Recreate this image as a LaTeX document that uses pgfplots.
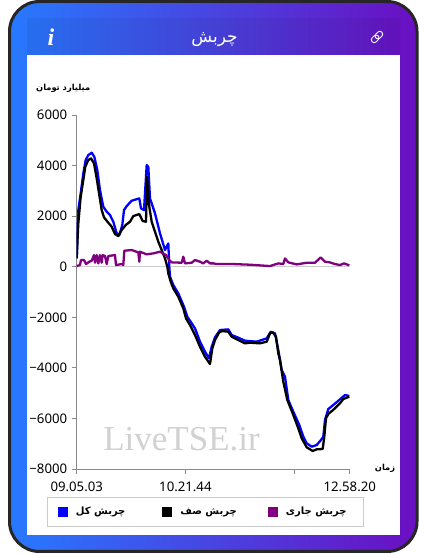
\documentclass[border=0pt]{standalone}
\usepackage{pgfplots}
\pgfplotsset{compat=1.18}
\usepackage{fontspec}
\setmainfont{Noto Sans}
\newfontfamily\arabicfont[Script=Arabic]{DejaVu Sans}
\newfontfamily\wmfont{Liberation Serif}
\TeXXeTstate=1
\definecolor{gradL}{HTML}{2779FF}
\definecolor{gradR}{HTML}{6A0FC2}
\definecolor{axgray}{HTML}{8A8A8A}
\definecolor{pur}{HTML}{800080}
\pgfplotstableread{
x y
0 330
1.6 2241
4 2900
6.6 3690
9 4218
11.6 4415
15 4508
17.6 4350
20.6 3822
23.3 3031
26.6 2372
30 2175
33.3 2043
36.6 1779
40 1318
42.6 1252
45.6 1648
47.3 2241
50 2399
55 2610
62.6 2702
64.3 2306
67.3 2241
70 4020
71.6 3954
73.3 2702
78.3 2109
83.3 1318
88.3 659
91.6 922
92.6 0
93.3 -395
96.6 -725
101.6 -1054
107.3 -1582
110.6 -1977
118.3 -2438
123.3 -2965
128.3 -3361
132.3 -3625
135 -3163
138.3 -2794
143.3 -2504
151.6 -2478
155 -2702
161.6 -2807
168.3 -2926
180 -2965
190 -2834
194 -2570
198.3 -2636
201.6 -3295
205 -4086
208.3 -4349
211.6 -5271
216.6 -5733
222.6 -6260
226.6 -6721
230 -6985
235 -7117
240 -7050
244.3 -6853
246.6 -6721
248.3 -6062
251.6 -5627
256.6 -5469
263.3 -5245
268.3 -5074
272.6 -5113
}\blue
\pgfplotstableread{
x y
0 330
1.6 1713
4 2768
6.6 3427
8.6 3954
11.6 4218
14.3 4284
17.3 4086
20 3493
22.6 2834
25 2241
27.3 1951
31.6 1740
35 1582
38.3 1292
41.6 1213
45 1450
49 1648
53.3 1779
56.6 2003
62.6 2082
66 1806
69.3 1779
70.3 3559
72.6 2372
75 1779
78.3 1384
81.6 988
85 659
88.3 330
90.6 0
91.6 -264
94 -593
96.6 -857
101.6 -1186
106.6 -1648
109.3 -2043
113.3 -2306
118.3 -2702
123.3 -3163
128.3 -3559
133.3 -3849
135.6 -3229
138.3 -2900
142.3 -2610
145 -2544
151.6 -2570
155 -2768
161.6 -2900
168.3 -3031
173.3 -3005
183.3 -3031
190 -2965
193.3 -2636
196 -2596
199.3 -2768
201.6 -3427
203.3 -3690
206.6 -4547
210.6 -5271
216.6 -5865
221.6 -6392
225 -6787
230 -7143
236 -7288
240 -7222
246 -7209
247.6 -6721
249.3 -5996
251.6 -5825
258.3 -5601
263.3 -5403
266.6 -5232
272.6 -5140
}\black
\pgfplotstableread{
x y
0 26
3.3 66
4.3 264
7.3 264
9.3 105
12.6 198
15 237
17.3 461
18.3 158
20 461
21.6 132
23.3 461
25 158
26 461
28.3 422
30 105
31.6 422
38.3 461
39.3 66
45 105
46.6 66
47.6 633
55 659
61.6 567
62.6 198
63.3 593
70 488
76.6 527
83.3 593
89.3 461
92.6 264
95 171
105 158
106.6 395
108.3 132
115 158
118.3 264
123.3 198
126.6 132
130 237
133.3 132
136.6 132
140 105
156.6 105
173.3 79
193.3 26
201.6 132
206.6 105
208.3 329
211.6 171
220 92
230 158
238.3 158
244 369
248.3 198
253.3 171
258.3 105
263.3 66
267.3 132
272.6 53
}\purple
\begin{document}
\begin{tikzpicture}
\path[use as bounding box] (0pt,0pt) rectangle (427pt,554pt);
% card
\draw[draw=black!85,line width=3pt,left color=gradL,right color=gradR,rounded corners=30pt]
  (9.5pt,2.5pt) rectangle (417pt,552.5pt);
\fill[black,opacity=.05] (27pt,499pt) rectangle (400pt,536pt);
\fill[white] (27pt,19pt) rectangle (400pt,499pt);
% header
\node[text=white,font=\arabicfont\fontsize{17}{18}\selectfont] at (214.5pt,514.5pt) {\beginR چربش\endR};
\node[text=white,font=\wmfont\fontsize{24}{26}\selectfont\bfseries\itshape] at (51pt,517pt) {i};
\begin{scope}[shift={(377pt,517pt)},rotate=45,draw=white,line width=.9pt]
  \draw[rounded corners=2.6pt] (-1.5pt,-2.8pt) rectangle (6.8pt,2.8pt);
  \draw[rounded corners=2.6pt] (-6.8pt,-2.8pt) rectangle (1.5pt,2.8pt);
\end{scope}
% watermark
\node[text=black!18,font=\wmfont\fontsize{35}{36}\selectfont,inner sep=0pt] at (181.5pt,115pt) {LiveTSE.ir};
\begin{axis}[
  at={(76.7pt,85pt)},anchor=south west,
  scale only axis,width=273pt,height=354pt,
  xmin=0,xmax=273,ymin=-8000,ymax=6000,
  axis x line*=bottom,axis y line*=left,
  axis line style={axgray,line width=.8pt,-},
  tick style={axgray,line width=.8pt},
  tick align=outside,major tick length=5pt,
  xtick={0,108.7,217.6,273},
  xticklabels={09.05.03,10.21.44,,12.58.20},
  ytick={-8000,-6000,-4000,-2000,0,2000,4000,6000},
  yticklabels={−8000,−6000,−4000,−2000,0,2000,4000,6000},
  tick label style={font=\fontsize{13.2}{15}\selectfont,black},
  xticklabel style={yshift=-4.5pt},
  yticklabel style={xshift=-1pt},
  legend style={at={(-0.1106,-0.0791)},anchor=north west,draw=black!20,line width=.8pt,
    legend columns=3,inner xsep=11pt,inner ysep=8pt,
    font=\arabicfont\fontsize{10}{12}\selectfont\bfseries,
    /tikz/every odd column/.append style={column sep=6pt},
    /tikz/every even column/.append style={column sep=30.5pt}},
  legend image code/.code={\fill[#1,draw=none] (0pt,-5pt) rectangle (10pt,5pt);},
  every axis plot/.append style={line join=round},
]
\addplot[forget plot,black!20,line width=.8pt] coordinates {(0,0) (273,0)};
\addplot[blue,line width=2.3pt] table[x=x,y=y] {\blue};
\addlegendentry{\makebox[54pt][l]{\beginR چربش کل\endR}}
\addplot[black,line width=2.3pt] table[x=x,y=y] {\black};
\addlegendentry{\makebox[55pt][l]{\beginR چربش صف\endR}}
\addplot[pur,line width=2.3pt] table[x=x,y=y] {\purple};
\addlegendentry{\makebox[64pt][l]{\beginR چربش جاری\endR}}
\end{axis}
\node[font=\arabicfont\fontsize{8.3}{10}\selectfont\bfseries,anchor=west,inner sep=0pt] at (36pt,466pt) {\beginR میلیارد تومان\endR};
\node[font=\arabicfont\fontsize{8.3}{10}\selectfont\bfseries,inner sep=0pt] at (385pt,86pt) {\beginR زمان\endR};
\end{tikzpicture}
\end{document}
